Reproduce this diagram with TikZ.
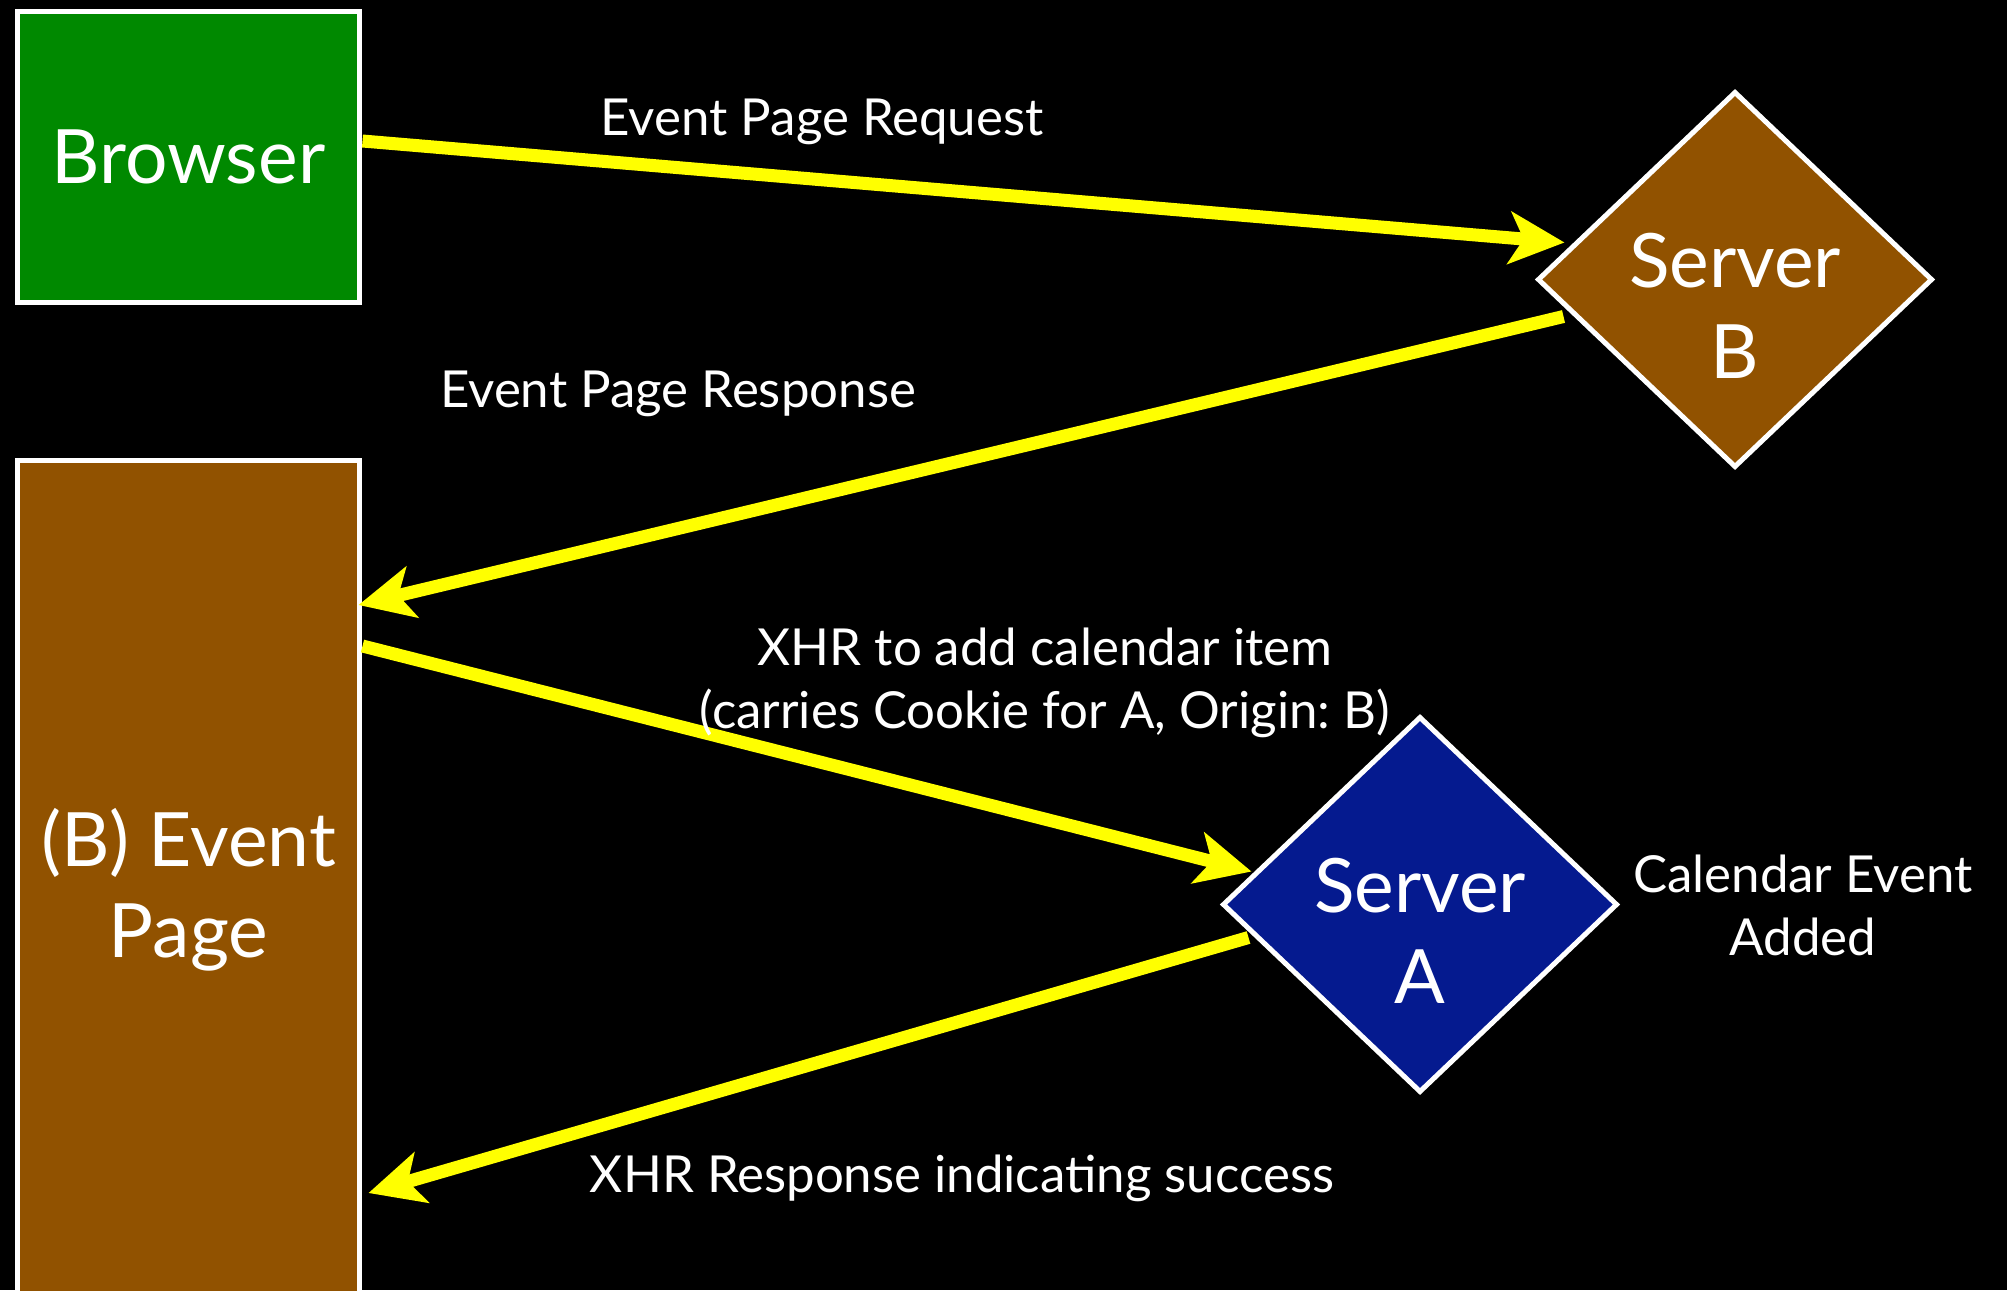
\documentclass[tikz,border=0pt]{standalone}
\usepackage{fontspec}
\setmainfont{Lato}
\usetikzlibrary{shapes.geometric,arrows.meta,calc}

\definecolor{boxgreen}{RGB}{0,137,0}
\definecolor{boxbrown}{RGB}{145,82,0}
\definecolor{boxblue}{RGB}{5,26,143}
\definecolor{flowyellow}{RGB}{255,255,0}

\frenchspacing

\begin{document}
\begin{tikzpicture}[
  x=1pt, y=-1pt,
  bigfont/.style={font=\fontsize{75}{91}\selectfont},
  smallfont/.style={font=\fontsize{51}{63}\selectfont},
  panel/.style={draw=white, line width=5pt, inner sep=0pt, outer sep=0pt,
                text=white, align=center, bigfont},
  server/.style={shape=diamond, draw=white, line width=5pt,
                 minimum width=393pt, minimum height=374pt,
                 inner sep=0pt, outer sep=0pt},
  % multi-line texts are placed by the baseline of their last line
  servertext/.style={text=white, align=center, bigfont, inner sep=0pt, anchor=base},
  lbl/.style={text=white, align=center, smallfont, inner sep=0pt, anchor=base},
  flow/.style={draw=flowyellow, line width=13pt,
               -{Stealth[length=55pt,width=52pt,inset=14pt]}}
]
% canvas
\fill[black] (0,0) rectangle (2007,1290);
\useasboundingbox (0,0) rectangle (2007,1290);

% boxes on the left
\node[panel, fill=boxgreen, minimum width=342pt, minimum height=291pt]
  (browser) at (188.5,157) {Browser};
\node[panel, fill=boxbrown, minimum width=342pt, minimum height=860pt]
  (eventpage) at (188.5,890) {(B) Event\\Page};

% servers
\node[server, fill=boxbrown] (serverB) at (1735,279.5) {};
\node[servertext] (serverBtext) at (1735,378) {Server\\B};
\node[server, fill=boxblue] (serverA) at (1420,904.5) {};
\node[servertext] (serverAtext) at (1420,1003) {Server\\A};

% messages
\draw[flow] ($(browser.east)+(3,-16)$) -- ($(serverB.west)+(26,-37)$);
\draw[flow] ($(serverB.west)+(25,37)$) -- ($(eventpage.north east)+(-1,145)$);
\draw[flow] ($(eventpage.north east)+(3,186)$) -- ($(serverA.west)+(28,-33)$);
\draw[flow] ($(serverA.west)+(25,33)$) -- ($(eventpage.north east)+(9,733)$);

% message labels
\node[lbl] (reqlbl) at (822,135) {Event Page Request};
\node[lbl] (resplbl) at (678,407) {Event Page Response};
\node[lbl] (xhrlbl) at (1045,728) {XHR to add calendar item\\(carries Cookie for A, Origin: B)};
\node[lbl] (addedlbl) at (1803,955) {Calendar Event\\Added};
\node[lbl] (xhrresplbl) at (962,1192) {XHR Response indicating success};
\end{tikzpicture}
\end{document}
